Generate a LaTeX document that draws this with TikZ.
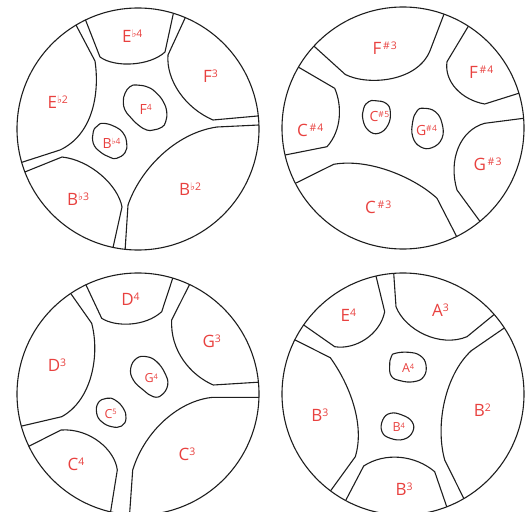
\documentclass[tikz,border=0pt]{standalone}
\usepackage{fontspec}
\setmainfont{Open Sans}
\newfontfamily\symf{DejaVu Sans}
\usetikzlibrary{calc}
\definecolor{notered}{HTML}{E8413F}
\definecolor{ink}{HTML}{1E1E1E}
\newcommand\fl{{\symf\char"266D}}
\newcommand\sh{\kern1.8pt\#\kern1pt}
\newcommand\shs{\#\kern0.5pt}
\newcommand\Lb[2]{{\fontsize{17}{17}\selectfont #1\raisebox{5pt}{\fontsize{10.5}{10.5}\selectfont #2}}}
\newcommand\Lm[2]{{\fontsize{14}{14}\selectfont #1\raisebox{4pt}{\fontsize{8.5}{8.5}\selectfont #2}}}
\newcommand\Ls[2]{{\fontsize{12.5}{12.5}\selectfont #1\raisebox{3.6pt}{\fontsize{7.5}{7.5}\selectfont #2}}}
\begin{document}
\begin{tikzpicture}[x=1pt,y=-1pt,line width=1.1pt,line join=round,
  edge/.style={draw=ink},
  lab/.style={text=notered,inner sep=0pt,anchor=base west}]
\useasboundingbox (0,0) rectangle (527,511);
\clip (0,0) rectangle (527,511);
\coordinate (c1) at (138,129);
\coordinate (c2) at (403,128);
\coordinate (c3) at (138,394);
\coordinate (c4) at (403,394);
\foreach \c in {c1,c2,c3,c4} \draw[edge] (\c) circle (121);

% ---- circle 1
\draw[edge] ($(c1)+(-115.7:121)$) -- (100,57) .. controls (115,68) and (150,66) .. (165,52) -- ($(c1)+(-73:121)$);
\draw[edge] ($(c1)+(-120.8:121)$) -- (95,61) .. controls (100,95) and (92,135) .. (60,150) -- ($(c1)+(164:121)$);
\draw[edge] ($(c1)+(159.2:121)$) -- (62,157) .. controls (90,160) and (118,185) .. (122,207) -- ($(c1)+(101.9:121)$);
\draw[edge] ($(c1)+(96.1:121)$) -- (128,205) .. controls (140,170) and (175,133) .. (217,127) -- ($(c1)+(-1.9:121)$);
\draw[edge] ($(c1)+(-67:121)$) -- (168,55) .. controls (166,80) and (185,108) .. (213,120) -- ($(c1)+(-6.2:121)$);
\draw[edge] plot[smooth cycle,tension=0.75] coordinates {(136.7,85) (148.3,87.3) (156.7,93.3) (163.3,101.7) (166.7,111.7) (165.7,121.7) (161.7,127.3) (153.3,130) (146.7,130) (138.3,125) (130,116.7) (125,110) (123.3,101.7) (125,93.3) (130,86.7)};
\draw[edge] plot[smooth cycle,tension=0.75] coordinates {(103.3,123.3) (115,126.7) (123.3,133.3) (126.7,143.3) (125,152.7) (116.7,158.3) (110,157.3) (100,151.7) (93.3,143.3) (93.3,131.7) (97.3,126)};
\node[lab] (eb4) at (121.5,42) {\Lb{E}{\fl4}};
\node[lab] (eb2) at (47,108) {\Lb{E}{\fl2}};
\node[lab] (f3) at (202.5,82) {\Lb{F}{3}};
\node[lab] (f4) at (139,114) {\Lm{F}{4}};
\node[lab] (bb4) at (102,148) {\Lm{B}{\fl4}};
\node[lab] (bb3) at (66.5,205) {\Lb{B}{\fl3}};
\node[lab] (bb2) at (178.5,195) {\Lb{B}{\fl2}};

% ---- circle 2
\draw[edge] ($(c2)+(-137.4:121)$) -- (345.3,74.5) .. controls (368,86) and (418,82) .. (430.3,50) -- ($(c2)+(-70.2:121)$);
\draw[edge] ($(c2)+(-57.3:121)$) -- (447,61.7) .. controls (444,82) and (462,100) .. (484.7,104) -- ($(c2)+(-16.7:121)$);
\draw[edge] ($(c2)+(-4.6:121)$) -- (484.7,123.3) .. controls (460,130) and (448,160) .. (457,190) -- ($(c2)+(50.5:121)$);
\draw[edge] ($(c2)+(152.8:121)$) -- (333.7,164.3) .. controls (370,158) and (415,178) .. (437,198.3) -- ($(c2)+(63.7:121)$);
\draw[edge] ($(c2)+(-149.8:121)$) -- (334.7,88.3) .. controls (342,105) and (342,130) .. (327,146.7) -- ($(c2)+(167.1:121)$);
\draw[edge] plot[smooth cycle,tension=0.75] coordinates {(375.3,100.7) (386,103.3) (390.3,111.7) (388,125) (378.7,133.3) (368.7,130.7) (363,120) (363.7,108.3) (368.7,101.7)};
\draw[edge] plot[smooth cycle,tension=0.75] coordinates {(423.7,108.3) (435.3,111.7) (442,123.3) (442,138.3) (432,147.7) (420.3,146.7) (412.7,136.7) (412.7,121.7) (417,111)};
\node[lab] (fs3) at (372,55) {\Lb{F}{\sh3}};
\node[lab] (fs4) at (468.5,78.3) {\Lb{F}{\sh4}};
\node[lab] (cs4) at (296.5,136.7) {\Lb{C}{\sh4}};
\node[lab] (gs3) at (473,170) {\Lb{G}{\sh3}};
\node[lab] (cs3) at (364.5,213.3) {\Lb{C}{\sh3}};
\node[lab] (cs5) at (369,121.7) {\Lm{C}{\shs5}};
\node[lab] (gs4) at (415.5,135) {\Lm{G}{\shs4}};

% ---- circle 3
\draw[edge] ($(c3)+(-115.5:121)$) -- (101.7,318.3) .. controls (115,327) and (145,327) .. (161.7,311.7) -- ($(c3)+(-73.3:121)$);
\draw[edge] ($(c3)+(-123.8:121)$) -- (91.7,323.3) .. controls (100,355) and (92,400) .. (61.7,416.7) -- ($(c3)+(164.6:121)$);
\draw[edge] ($(c3)+(154.4:121)$) -- (61,430) .. controls (90,428) and (115,450) .. (117.3,470) -- ($(c3)+(103.1:121)$);
\draw[edge] ($(c3)+(94:121)$) -- (132.7,470) .. controls (145,430) and (180,400) .. (213.3,397.3) -- ($(c3)+(1.6:121)$);
\draw[edge] ($(c3)+(-64.8:121)$) -- (171.7,320) .. controls (170,350) and (190,375) .. (213.3,385) -- ($(c3)+(-5.6:121)$);
\draw[edge] plot[smooth cycle,tension=0.75] coordinates {(146.7,356.7) (156.7,361.7) (165,373.3) (167.7,385) (161.7,395) (153.3,396.7) (143.3,390) (133.3,380) (130.7,368.3) (136.7,358.3)};
\draw[edge] plot[smooth cycle,tension=0.75] coordinates {(106.7,398.3) (115,400) (123.3,408.3) (126,418.3) (121.7,426) (111.7,426.7) (101.7,421.7) (96.7,413.3) (98.3,402.7)};
\node[lab] (d4) at (120.7,305) {\Lb{D}{4}};
\node[lab] (d3) at (47.3,371.7) {\Lb{D}{3}};
\node[lab] (g3) at (202,347.3) {\Lb{G}{3}};
\node[lab] (g4) at (144,382.7) {\Ls{G}{4}};
\node[lab] (c5) at (104,418.3) {\Ls{C}{5}};
\node[lab] (c4l) at (67,470) {\Lb{C}{4}};
\node[lab] (c3l) at (178,460) {\Lb{C}{3}};

% ---- circle 4
\draw[edge] ($(c4)+(-145.2:121)$) -- (334.7,346.7) .. controls (355,350) and (380,335) .. (384.7,311.7) -- ($(c4)+(-102.9:121)$);
\draw[edge] ($(c4)+(-94.4:121)$) -- (396,306.7) .. controls (405,330) and (440,348) .. (467,336.7) -- ($(c4)+(-41.1:121)$);
\draw[edge] ($(c4)+(-33.1:121)$) -- (471.3,350.7) .. controls (445,375) and (435,425) .. (444.7,460) -- ($(c4)+(59.8:121)$);
\draw[edge] ($(c4)+(118.3:121)$) -- (363.7,466) .. controls (385,452) and (415,455) .. (434.7,471.7) -- ($(c4)+(68.8:121)$);
\draw[edge] ($(c4)+(-153.4:121)$) -- (330.3,357.7) .. controls (350,385) and (365,425) .. (355.3,456.7) -- ($(c4)+(126.8:121)$);
\draw[edge] plot[smooth cycle,tension=0.75] coordinates {(395.3,353.3) (408.7,352.3) (420.3,355.7) (426,365) (423.7,376.7) (413.7,381.7) (400.3,380.7) (391.3,376) (389.7,365) (391.3,356.7)};
\draw[edge] plot[smooth cycle,tension=0.75] coordinates {(390.3,413.3) (402,415) (412,421.7) (412.7,431.7) (403.7,439.3) (390.3,438.3) (382,431.7) (382.7,420)};
\node[lab] (e4) at (340,321.7) {\Lb{E}{4}};
\node[lab] (a3) at (431.5,316) {\Lb{A}{3}};
\node[lab] (a4) at (401.5,372.7) {\Ls{A}{4}};
\node[lab] (b3l) at (310.7,421.7) {\Lb{B}{3}};
\node[lab] (b2) at (473.3,416) {\Lb{B}{2}};
\node[lab] (b4) at (392,431.7) {\Ls{B}{4}};
\node[lab] (b3b) at (395,495) {\Lb{B}{3}};
\end{tikzpicture}
\end{document}
